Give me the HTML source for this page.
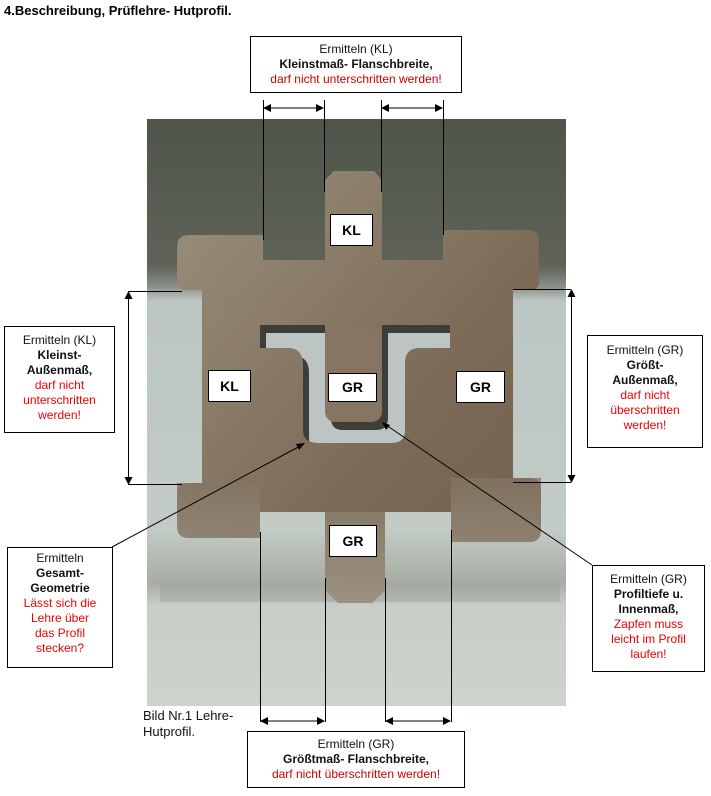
<!DOCTYPE html>
<html><head><meta charset="utf-8"><style>
body{margin:0;width:711px;height:796px;background:#fff;position:relative;overflow:hidden;font-family:"Liberation Sans",Arial,sans-serif;font-size:12px}
.t{position:absolute;white-space:nowrap}
.box{position:absolute;border:1px solid #000;background:#fff;text-align:center;line-height:15px;font-size:12px;box-sizing:border-box;color:#111}
.b{font-weight:bold}
.r{color:#e00}
.dr{color:#c00}
.lab{position:absolute;background:#fff;border:1px solid #000;box-sizing:border-box;font-weight:bold;font-size:14px;text-align:center}
svg{position:absolute;left:0;top:0}
</style></head><body>
<div class="t b" style="left:4px;top:3px;font-size:13px">4.Beschreibung, Prüflehre- Hutprofil.</div>

<svg width="711" height="796" viewBox="0 0 711 796">
<defs>
<linearGradient id="bg" x1="0" y1="0" x2="0" y2="1">
<stop offset="0" stop-color="#50554a"/>
<stop offset="0.25" stop-color="#5e6257"/>
<stop offset="0.285" stop-color="#8a9088"/>
<stop offset="0.31" stop-color="#bcc6c2"/>
<stop offset="0.7" stop-color="#c2cbc6"/>
<stop offset="0.79" stop-color="#a8aca4"/>
<stop offset="0.83" stop-color="#c8cec8"/>
<stop offset="1" stop-color="#ccd2cc"/>
</linearGradient>
<linearGradient id="mt" x1="0" y1="0" x2="1" y2="1">
<stop offset="0" stop-color="#9a907c"/>
<stop offset="0.35" stop-color="#887a66"/>
<stop offset="0.6" stop-color="#7c6a56"/>
<stop offset="1" stop-color="#72604c"/>
</linearGradient>
<linearGradient id="mb" x1="0" y1="0" x2="0" y2="1">
<stop offset="0" stop-color="#827462"/>
<stop offset="1" stop-color="#a49c8c"/>
</linearGradient>
<clipPath id="slot"><path d="M260,325 H325 V410 Q325,422 337,422 H370 Q382,422 382,410 V325 H450 V348 H420 Q405,348 405,363 V430 Q405,443 392,443 H318 Q303,443 303,430 V365 Q303,348 288,348 H260 Z"/></clipPath>
</defs>
<rect x="147" y="119" width="419" height="587" fill="url(#bg)"/>
<rect x="160" y="582" width="400" height="20" fill="#9da39c" opacity="0.5"/>
<path d="M177,247 Q177,235 189,235 H263 V260 H325 V180 L334,171 H374 L382,180 V260 H443 V230 H527 Q539,230 539,242 V282 Q539,290 531,290 H513 V478 H529 Q541,478 541,490 V530 Q541,542 529,542 H451 V512 H385 V590 L372,603 H338 L325,590 V512 H260 V538 H189 Q177,538 177,526 V495 Q177,483 189,483 H202 V290 H187 Q177,290 177,280 Z" fill="url(#mt)"/>
<path d="M177,483 H260 V538 H189 Q177,538 177,526 Z M451,478 H541 V530 Q541,542 529,542 H451 Z M325,512 H385 V590 L372,603 H338 L325,590 Z" fill="url(#mb)" opacity="0.8"/>
<path d="M260,325 H325 V410 Q325,422 337,422 H370 Q382,422 382,410 V325 H450 V348 H420 Q405,348 405,363 V430 Q405,443 392,443 H318 Q303,443 303,430 V365 Q303,348 288,348 H260 Z" fill="#3e3e38"/>
<g clip-path="url(#slot)"><path transform="translate(6,8)" d="M260,325 H325 V410 Q325,422 337,422 H370 Q382,422 382,410 V325 H450 V348 H420 Q405,348 405,363 V430 Q405,443 392,443 H318 Q303,443 303,430 V365 Q303,348 288,348 H260 Z" fill="#bcc5c4"/></g>
<path d="M325,330 V410 Q325,422 337,422 H370 Q382,422 382,410 V330 Z" fill="#857562"/>
<g stroke="#000" stroke-width="1" fill="none">
<path d="M263.5,100 V240 M324.5,100 V192 M381.5,100 V192 M443.5,100 V235"/>
<path d="M268,108 H319 M386,108 H438"/>
<path d="M260.5,532 V722 M325.5,578 V722 M385.5,578 V722 M451.5,530 V722"/>
<path d="M265,721 H320 M390,721 H446"/>
<path d="M128,291.5 H182 M128,484.5 H182 M128.5,297 V479"/>
<path d="M513,289.5 H571 M513,482.5 H571 M571.5,295 V477"/>
<path d="M112,547 L302,445 M592,565 L386,425"/>
</g>
<g fill="#000">
<path d="M263,108 l8,-4 v8 z M324,108 l-8,-4 v8 z M381,108 l8,-4 v8 z M443,108 l-8,-4 v8 z"/>
<path d="M260,721 l8,-4 v8 z M325,721 l-8,-4 v8 z M385,721 l8,-4 v8 z M451,721 l-8,-4 v8 z"/>
<path d="M128.5,291 l-4,8 h8 z M128.5,485 l-4,-8 h8 z M571.5,289 l-4,8 h8 z M571.5,483 l-4,-8 h8 z"/>
<path d="M305,443 l-9,1 l3,6 z M382,422 l4,8 l4,-5 z"/>
</g>
</svg>

<div class="lab" style="left:330px;top:214px;width:43px;height:32px;line-height:30px">KL</div>
<div class="lab" style="left:208px;top:370px;width:43px;height:32px;line-height:30px">KL</div>
<div class="lab" style="left:328px;top:373px;width:49px;height:29px;line-height:27px">GR</div>
<div class="lab" style="left:456px;top:371px;width:49px;height:32px;line-height:30px">GR</div>
<div class="lab" style="left:329px;top:525px;width:48px;height:32px;line-height:30px">GR</div>

<div class="box" style="left:250px;top:36px;width:212px;height:57px;padding-top:5px">Ermitteln (KL)<br><span class="b">Kleinstmaß- Flanschbreite,</span><br><span class="dr">darf nicht unterschritten werden!</span></div>
<div class="box" style="left:4px;top:326px;width:111px;height:107px;padding-top:6px">Ermitteln (KL)<br><span class="b">Kleinst-<br>Außenmaß,</span><br><span class="r">darf nicht<br>unterschritten<br>werden!</span></div>
<div class="box" style="left:587px;top:335px;width:116px;height:113px;padding-top:7px">Ermitteln (GR)<br><span class="b">Größt-<br>Außenmaß,</span><br><span class="r">darf nicht<br>überschritten<br>werden!</span></div>
<div class="box" style="left:7px;top:547px;width:106px;height:121px;padding-top:3px">Ermitteln<br><span class="b">Gesamt-<br>Geometrie</span><br><span class="r">Lässt sich die<br>Lehre über<br>das Profil<br>stecken?</span></div>
<div class="box" style="left:592px;top:565px;width:113px;height:107px;padding-top:6px">Ermitteln (GR)<br><span class="b">Profiltiefe u.<br>Innenmaß,</span><br><span class="r">Zapfen muss<br>leicht im Profil<br>laufen!</span></div>
<div class="box" style="left:247px;top:731px;width:218px;height:57px;padding-top:5px">Ermitteln (GR)<br><span class="b">Größtmaß- Flanschbreite,</span><br><span class="dr">darf nicht überschritten werden!</span></div>
<div class="t" style="left:143px;top:708px;font-size:13px;line-height:16px;color:#111">Bild Nr.1 Lehre-<br>Hutprofil.</div>
</body></html>
